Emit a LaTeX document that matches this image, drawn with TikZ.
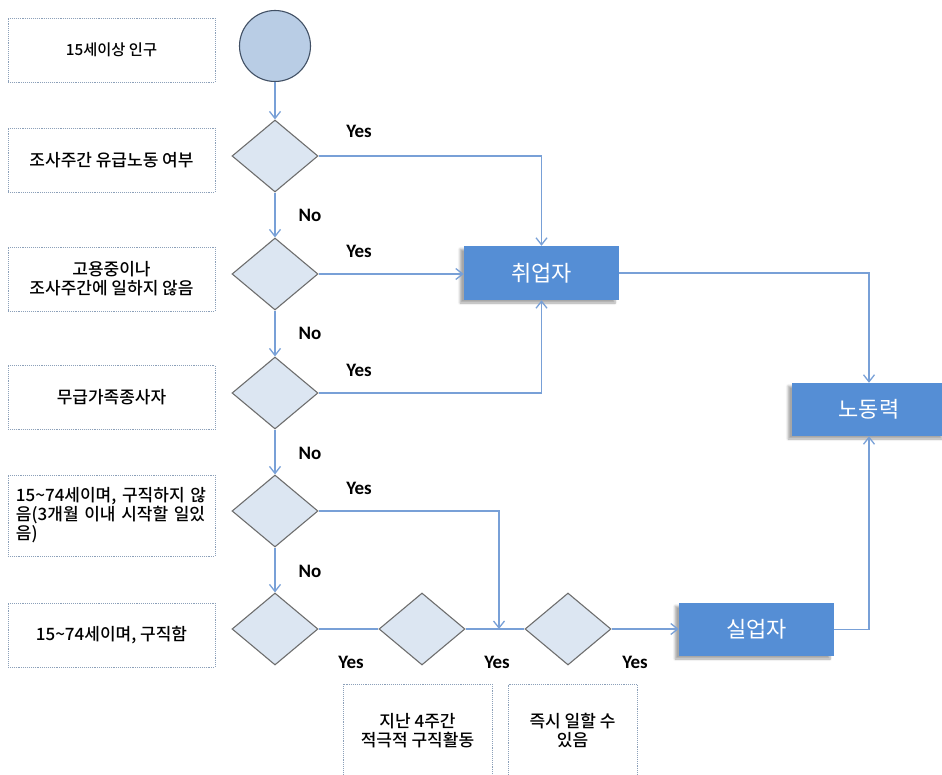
\documentclass[tikz,border=0pt]{standalone}
\usepackage{fontspec}
\setmainfont{Noto Sans CJK KR}
\newfontfamily\krm{Noto Sans CJK KR Medium}
\newfontfamily\carl{Carlito}
\usetikzlibrary{arrows.meta,shapes.geometric,shadows.blur}
\definecolor{lineblue}{RGB}{120,160,215}
\definecolor{boxblue}{RGB}{85,142,213}
\definecolor{dfill}{RGB}{220,230,242}
\definecolor{dborder}{RGB}{110,110,110}
\definecolor{cfill}{RGB}{185,205,229}
\definecolor{cborder}{RGB}{65,80,100}
\definecolor{lborder}{RGB}{140,160,185}
\begin{document}
\begin{tikzpicture}[x=1pt,y=-1pt,
 lbox/.style={draw=lborder, densely dotted, line width=0.9pt, minimum width=207pt, minimum height=64pt, inner sep=0pt, font=\krm\fontsize{17}{19}\selectfont, align=center},
 dec/.style={diamond, draw=dborder, fill=dfill, line width=1.1pt, minimum width=86pt, minimum height=72pt, inner sep=0pt},
 res/.style={fill=boxblue, minimum width=155pt, minimum height=54pt, inner sep=0pt, text=white, font=\fontsize{22}{24}\selectfont, blur shadow={shadow xshift=-4pt, shadow yshift=-3pt, shadow opacity=35, shadow blur steps=6}},
 conn/.style={draw=lineblue, line width=1.3pt},
 arr/.style={conn, -{Straight Barb[length=7pt,width=11pt]}},
 yn/.style={font=\carl\bfseries\fontsize{19}{21}\selectfont}]
\useasboundingbox (0,0) rectangle (942,775);

% left description boxes
\node[lbox, font=\krm\fontsize{15.3}{18}\selectfont] (b1) at (111.5,50) {15세이상 인구};
\node[lbox] (b2) at (111.5,160) {조사주간 유급노동 여부};
\node[lbox] (b3) at (111.5,279) {고용중이나\\조사주간에 일하지 않음};
\node[lbox] (b4) at (111.5,397.5) {무급가족종사자};
\node[lbox, minimum height=81pt, text width=191pt, inner xsep=8pt, align=left] (b5) at (111.5,515.5) {15\textasciitilde74세이며, 구직하지 않\\음(3개월 이내 시작할 일있\\음)};
\node[lbox] (b6) at (111.5,635) {15\textasciitilde74세이며, 구직함};
\node[lbox, minimum width=149pt, minimum height=93pt] (b7) at (417.5,730.5) {지난 4주간\\적극적 구직활동};
\node[lbox, minimum width=129pt, minimum height=93pt] (b8) at (572.5,730.5) {즉시 일할 수\\있음};

% start
\node[circle, draw=cborder, fill=cfill, line width=1.1pt, minimum size=71pt, inner sep=0pt] (start) at (275,46) {};

% decisions
\node[dec] (d1) at (275,156) {};
\node[dec] (d2) at (275,274) {};
\node[dec] (d3) at (275,393) {};
\node[dec] (d4) at (275,511) {};
\node[dec] (d5) at (275,629) {};
\node[dec] (d6) at (422,629) {};
\node[dec] (d7) at (568,629) {};

% results
\node[res] (emp) at (541.5,273) {취업자};
\node[res, minimum height=53pt] (unemp) at (756.5,629.5) {실업자};
\node[res, minimum height=53pt, minimum width=154pt] (lab) at (869,409.5) {노동력};

\coordinate (j) at (499,629);

% connectors
\draw[arr] (start) -- (d1);
\draw[arr] (d1) -- (d2);
\draw[arr] (d2) -- (d3);
\draw[arr] (d3) -- (d4);
\draw[arr] (d4) -- (d5);
\draw[arr] (d1.east) -| (emp.north);
\draw[arr] (d2.east) -- (emp.west |- d2.east);
\draw[arr] (d3.east) -| (emp.south);
\draw[arr] (d4.east) -| (j);
\draw[conn] (d5.east) -- (d6.west);
\draw[conn] (d6.east) -- (d7.west);
\draw[arr] (d7.east) -- (unemp.west |- d7.east);
\draw[arr] (emp.east) -| (lab.north);
\draw[arr] (unemp.east) -| (lab.south);

% labels
\node[yn] (y1) at (359,131) {Yes};
\node[yn] (y2) at (359,251) {Yes};
\node[yn] (y3) at (359,370) {Yes};
\node[yn] (y4) at (359,488) {Yes};
\node[yn] (n1) at (310,215) {No};
\node[yn] (n2) at (310,333) {No};
\node[yn] (n3) at (310,453) {No};
\node[yn] (n4) at (310,571) {No};
\node[yn] (y5) at (351,662) {Yes};
\node[yn] (y6) at (497,662) {Yes};
\node[yn] (y7) at (635,662) {Yes};
\end{tikzpicture}
\end{document}
